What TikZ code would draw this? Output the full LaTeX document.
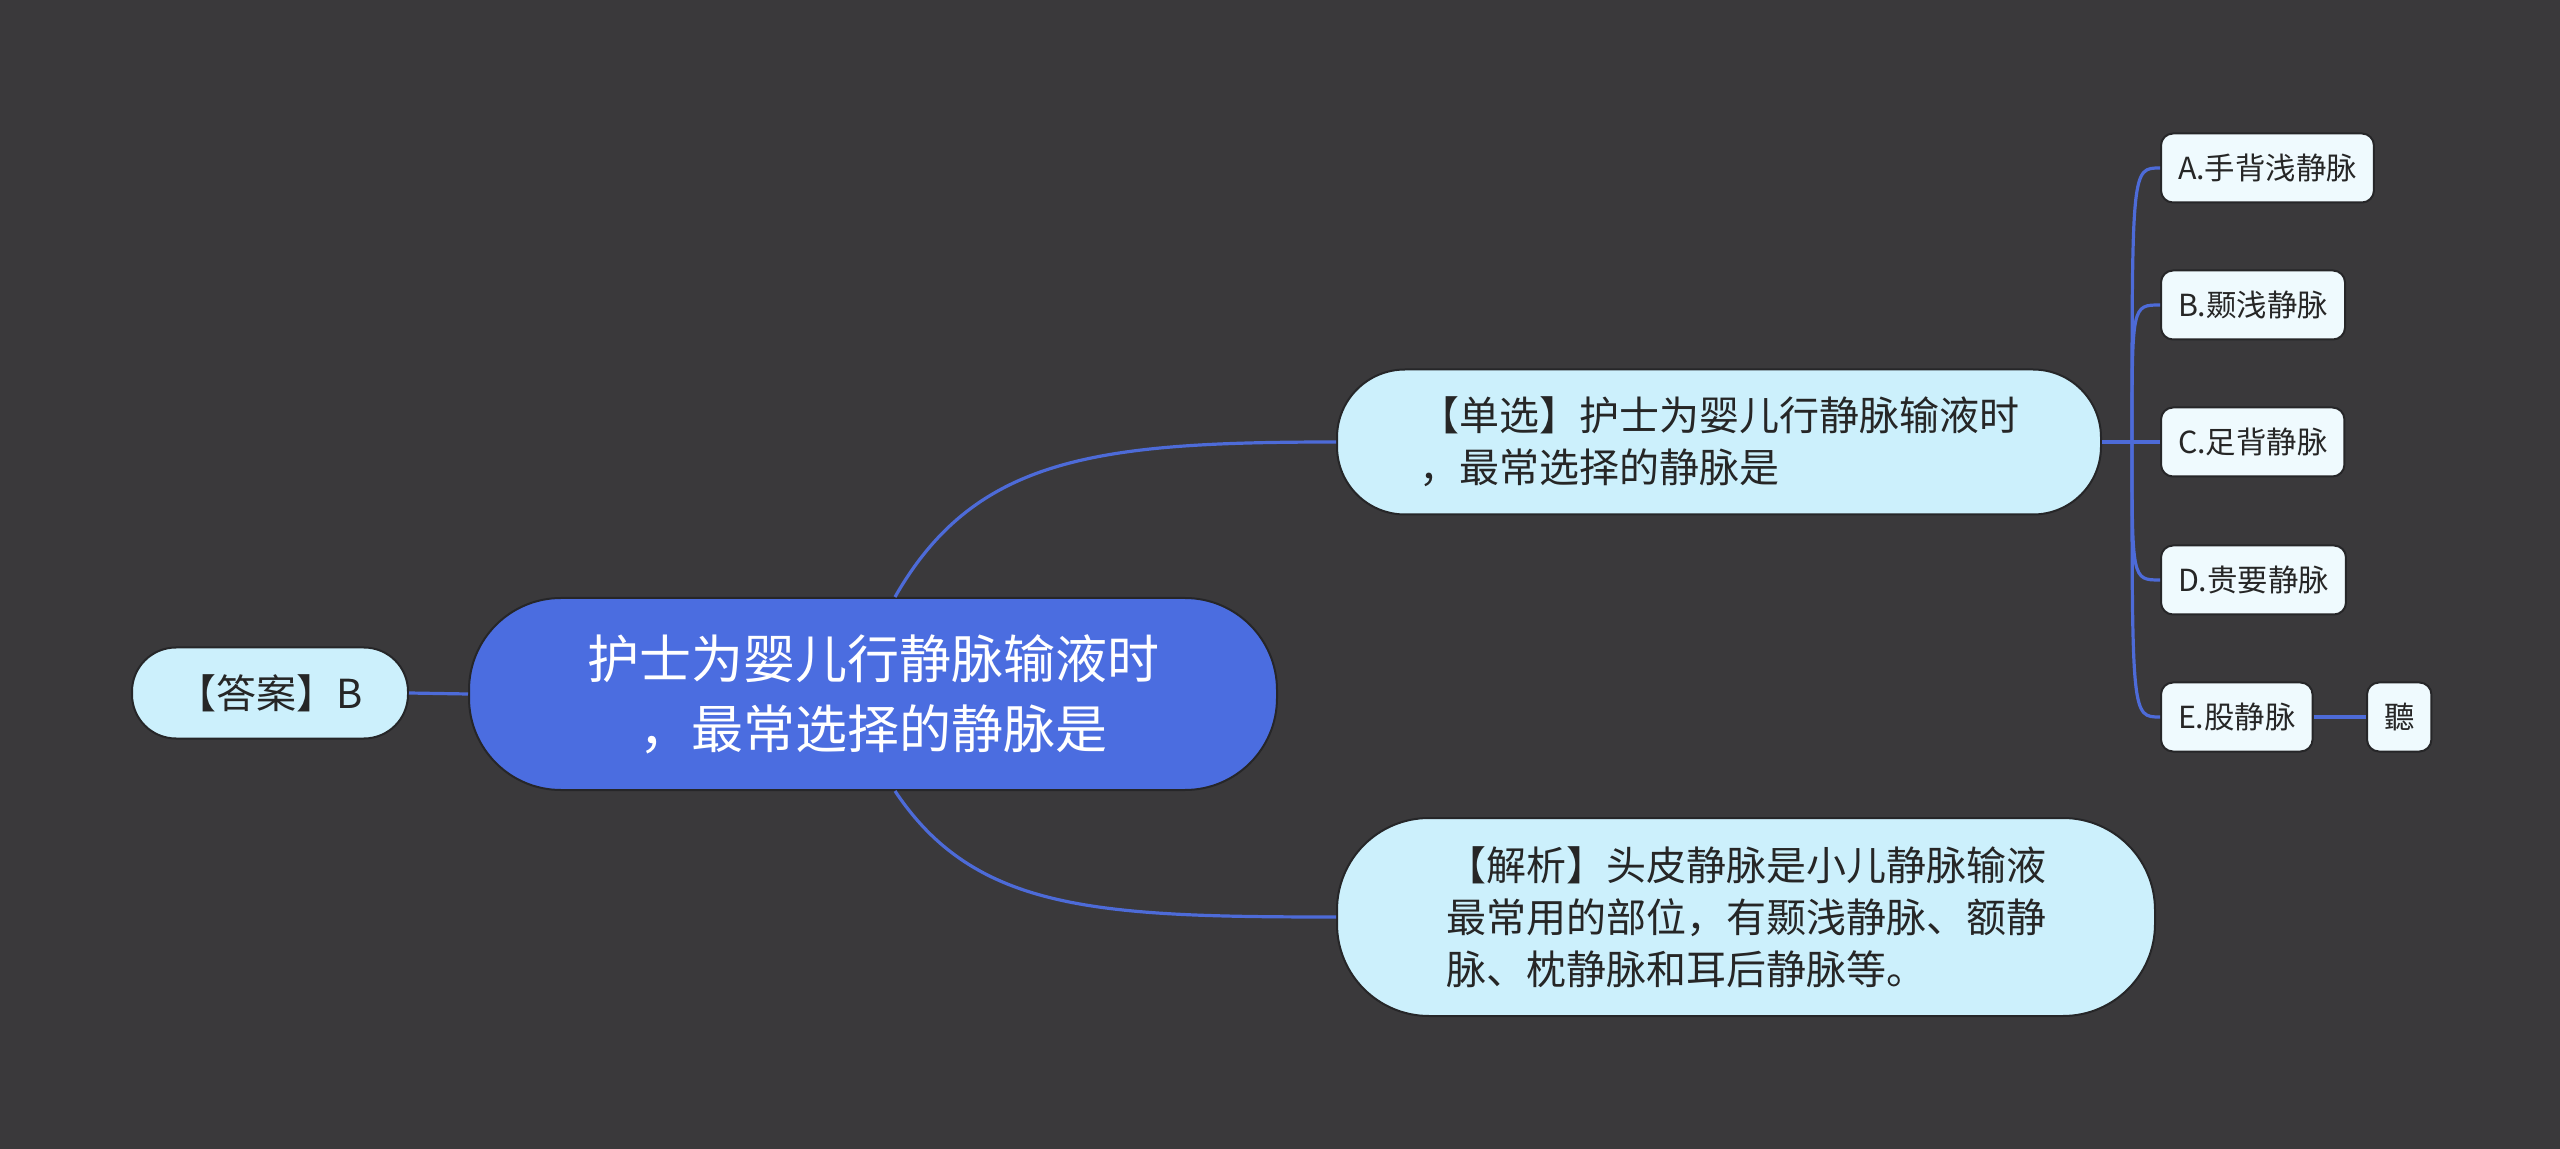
\documentclass[tikz,border=0pt]{standalone}
\usepackage{fontspec}
\setmainfont{Noto Sans CJK SC}
\definecolor{bgc}{HTML}{3A393B}
\definecolor{rootblue}{HTML}{4B6DE0}
\definecolor{link}{HTML}{4D6BD8}
\definecolor{pale}{HTML}{CCF0FC}
\definecolor{paler}{HTML}{EFFAFE}
\definecolor{edge}{HTML}{262628}
\definecolor{ink}{HTML}{262626}
\tikzset{px/.style={x=0.5pt,y=-0.5pt},
  box/.style={inner sep=0pt,draw=edge,line width=1pt,text=ink},
  rootbox/.style={box,fill=rootblue,text=white,minimum width=404pt,minimum height=96pt,
    rounded corners=46pt,align=center,font=\fontsize{26}{35}\selectfont},
  bigbox/.style={box,fill=pale,rounded corners=34pt,align=left,font=\fontsize{20}{26}\selectfont},
  optbox/.style={box,fill=paler,inner xsep=8.5pt,minimum height=34.5pt,rounded corners=6pt,
    font=\fontsize{15.2}{18}\selectfont},
  link/.style={draw=link,line width=1.6pt}}

\begin{document}
\begin{tikzpicture}[px]
  \fill[bgc] (0,0) rectangle (2560,1149);
  \node[rootbox] (root) at (873,694){护士为婴儿行静脉输液时\\，最常选择的静脉是};
  \node[bigbox,minimum width=138pt,minimum height=45.5pt,rounded corners=22pt] (ans) at (270,693){【答案】B};
  \node[bigbox,minimum width=382pt,minimum height=72.5pt] (q) at (1719,442){【单选】护士为婴儿行静脉输液时\\，最常选择的静脉是};
  \node[bigbox,minimum width=409pt,minimum height=99pt,rounded corners=46pt] (expl) at (1746,917){【解析】头皮静脉是小儿静脉输液\\最常用的部位，有颞浅静脉、额静\\脉、枕静脉和耳后静脉等。};
  % options
  \node[optbox,anchor=west] (a) at (2160,168){A.手背浅静脉};
  \node[optbox,anchor=west] (b) at (2160,305){B.颞浅静脉};
  \node[optbox,anchor=west] (c) at (2160,442){C.足背静脉};
  \node[optbox,anchor=west] (d) at (2160,580){D.贵要静脉};
  \node[optbox,anchor=west] (e) at (2160,717){E.股静脉};
  \node[optbox,anchor=west] (ting) at (2366,717){聽};
  \coordinate (fork) at (2132,442);
  % connectors
  \draw[link] (root.west) -- (ans.east);
  \draw[link] ([xshift=11pt]root.north) .. controls +(80,-140) and +(-240,0) .. (q.west);
  \draw[link] ([xshift=11pt]root.south) .. controls +(80,120) and +(-240,0) .. (expl.west);
  \draw[link] (q.east) -- (fork);
  \foreach \n in {a,b,c,d,e}{\draw[link] (fork) .. controls (fork |- \n.west) .. (\n.west);}
  \draw[link] (e.east) -- (ting.west);
\end{tikzpicture}
\end{document}
